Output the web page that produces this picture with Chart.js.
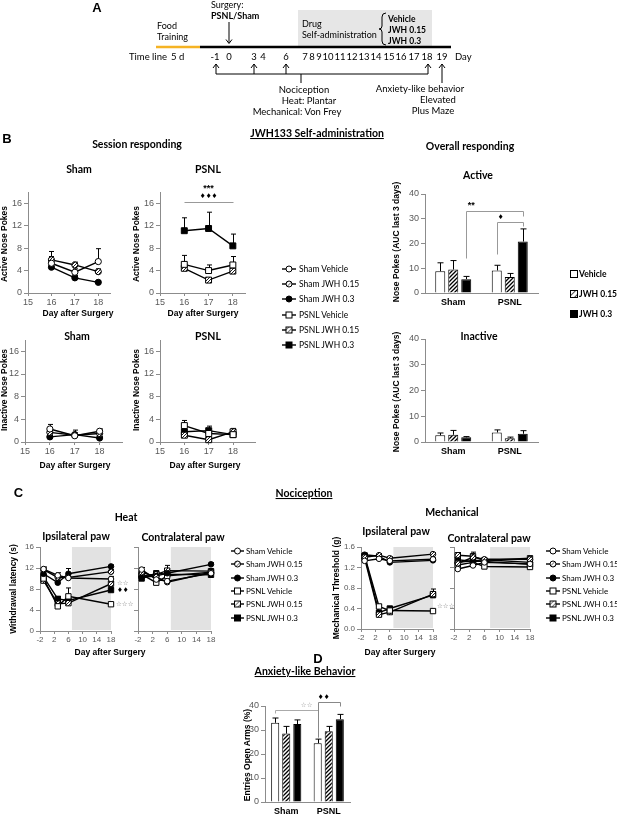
<!DOCTYPE html>
<html><head><meta charset="utf-8">
<script src="https://cdn.jsdelivr.net/npm/chart.js@4.4.0/dist/chart.umd.min.js"></script>
<style>
html,body{margin:0;padding:0;background:#fff;}
#page{position:relative;width:617px;height:815px;overflow:hidden;background:#fff;}
canvas{position:absolute;}
#ov{position:absolute;left:0;top:0;pointer-events:none;}
</style></head>
<body><div id="page"><svg id="ov" xmlns="http://www.w3.org/2000/svg" width="617" height="815"></svg></div>
<script>
// ---------------- DATA ----------------
const seriesNames = ['Sham Vehicle','Sham JWH 0.15','Sham JWH 0.3','PSNL Vehicle','PSNL JWH 0.15','PSNL JWH 0.3'];
const doseNames = ['Vehicle','JWH 0.15','JWH 0.3'];
const groupNames = ['Sham','PSNL'];

// Panel B - session responding (days after surgery)
const sessionDays = [16, 17, 18];
const activeShamVehicle = [5.3, 3.7, 5.6];   const activeShamVehicleErr = [1.2, 0.6, 2.3];
const activeShamJwh015  = [5.9, 5.0, 3.8];   const activeShamJwh015Err  = [1.5, 0.5, 0.5];
const activeShamJwh03   = [4.6, 2.7, 1.9];   const activeShamJwh03Err   = [0.5, 0.4, 0.3];
const activePsnlVehicle = [5.1, 4.0, 5.0];   const activePsnlVehicleErr = [1.6, 1.0, 1.5];
const activePsnlJwh015  = [4.4, 2.3, 3.9];   const activePsnlJwh015Err  = [0.4, 0.3, 0.4];
const activePsnlJwh03   = [11.1, 11.5, 8.4]; const activePsnlJwh03Err   = [2.3, 2.9, 2.1];
const inactiveShamVehicle = [2.3, 1.1, 1.9]; const inactiveShamVehicleErr = [0.8, 0.4, 0.4];
const inactiveShamJwh015  = [1.7, 1.2, 1.5]; const inactiveShamJwh015Err  = [0.4, 0.9, 0.5];
const inactiveShamJwh03   = [0.9, 1.3, 0.7]; const inactiveShamJwh03Err   = [0.3, 0.3, 0.2];
const inactivePsnlVehicle = [2.9, 1.5, 1.3]; const inactivePsnlVehicleErr = [0.9, 0.4, 0.3];
const inactivePsnlJwh015  = [1.2, 0.4, 1.8]; const inactivePsnlJwh015Err  = [0.3, 0.2, 0.6];
const inactivePsnlJwh03   = [1.8, 2.0, 1.3]; const inactivePsnlJwh03Err   = [0.3, 0.8, 0.3];

// Panel B - overall responding (AUC last 3 days), per group [Sham, PSNL]
const aucActiveVehicle = [8.8, 9.1];   const aucActiveVehicleErr = [3.4, 2.1];
const aucActiveJwh015  = [9.5, 6.5];   const aucActiveJwh015Err  = [3.6, 1.4];
const aucActiveJwh03   = [5.6, 20.8];  const aucActiveJwh03Err   = [1.1, 5.1];
const aucInactiveVehicle = [2.6, 3.7]; const aucInactiveVehicleErr = [0.9, 1.0];
const aucInactiveJwh015  = [2.8, 1.5]; const aucInactiveJwh015Err  = [1.7, 0.4];
const aucInactiveJwh03   = [1.8, 3.2]; const aucInactiveJwh03Err   = [0.3, 1.2];

// Panel C - nociception (days after surgery)
const nociDays = [-1, 3, 6, 18];
const heatIpsiShamVehicle = [11.8, 10.6, 10.1, 9.9]; const heatIpsiShamVehicleErr = [0.4, 0.5, 0.4, 0.5];
const heatIpsiShamJwh015  = [11.7, 10.2, 10.2, 11.3]; const heatIpsiShamJwh015Err = [0.3, 0.4, 0.4, 0.4];
const heatIpsiShamJwh03   = [10.9, 9.2, 10.9, 12.3]; const heatIpsiShamJwh03Err   = [0.5, 0.4, 1.0, 0.3];
const heatIpsiPsnlVehicle = [10.0, 4.7, 6.6, 5.1];   const heatIpsiPsnlVehicleErr = [0.5, 0.4, 1.6, 0.3];
const heatIpsiPsnlJwh015  = [9.6, 5.2, 5.3, 9.0];    const heatIpsiPsnlJwh015Err  = [0.4, 0.4, 0.5, 0.4];
const heatIpsiPsnlJwh03   = [10.3, 6.1, 5.8, 7.8];   const heatIpsiPsnlJwh03Err   = [0.4, 0.5, 0.5, 0.4];
const heatContraShamVehicle = [11.7, 9.8, 9.5, 11.0]; const heatContraShamVehicleErr = [0.4, 0.4, 0.4, 0.4];
const heatContraShamJwh015  = [11.2, 10.3, 9.3, 11.2]; const heatContraShamJwh015Err = [0.4, 0.4, 0.4, 0.4];
const heatContraShamJwh03   = [10.2, 10.5, 11.0, 12.7]; const heatContraShamJwh03Err = [0.3, 0.4, 1.5, 0.3];
const heatContraPsnlVehicle = [10.8, 9.2, 10.5, 11.2]; const heatContraPsnlVehicleErr = [0.4, 0.4, 0.4, 0.4];
const heatContraPsnlJwh015  = [10.5, 10.8, 11.5, 11.4]; const heatContraPsnlJwh015Err = [0.4, 0.4, 0.4, 0.4];
const heatContraPsnlJwh03   = [10.0, 11.0, 10.8, 10.7]; const heatContraPsnlJwh03Err = [0.4, 0.4, 0.4, 0.4];
const mechIpsiShamVehicle = [1.33, 1.37, 1.33, 1.36]; const mechIpsiShamVehicleErr = [0.03, 0.03, 0.03, 0.03];
const mechIpsiShamJwh015  = [1.40, 1.44, 1.38, 1.46]; const mechIpsiShamJwh015Err  = [0.03, 0.03, 0.03, 0.03];
const mechIpsiShamJwh03   = [1.45, 1.42, 1.30, 1.34]; const mechIpsiShamJwh03Err   = [0.03, 0.03, 0.03, 0.03];
const mechIpsiPsnlVehicle = [1.43, 0.44, 0.36, 0.35]; const mechIpsiPsnlVehicleErr = [0.03, 0.03, 0.03, 0.03];
const mechIpsiPsnlJwh015  = [1.38, 0.28, 0.33, 0.68]; const mechIpsiPsnlJwh015Err  = [0.03, 0.03, 0.03, 0.05];
const mechIpsiPsnlJwh03   = [1.42, 0.32, 0.40, 0.66]; const mechIpsiPsnlJwh03Err   = [0.03, 0.03, 0.03, 0.12];
const mechContraShamVehicle = [1.17, 1.24, 1.30, 1.27]; const mechContraShamVehicleErr = [0.03, 0.03, 0.03, 0.03];
const mechContraShamJwh015  = [1.28, 1.40, 1.36, 1.36]; const mechContraShamJwh015Err  = [0.03, 0.03, 0.03, 0.03];
const mechContraShamJwh03   = [1.30, 1.33, 1.35, 1.30]; const mechContraShamJwh03Err   = [0.03, 0.03, 0.03, 0.03];
const mechContraPsnlVehicle = [1.25, 1.30, 1.22, 1.21]; const mechContraPsnlVehicleErr = [0.03, 0.03, 0.03, 0.03];
const mechContraPsnlJwh015  = [1.44, 1.42, 1.34, 1.38]; const mechContraPsnlJwh015Err  = [0.05, 0.08, 0.03, 0.03];
const mechContraPsnlJwh03   = [1.35, 1.32, 1.32, 1.26]; const mechContraPsnlJwh03Err   = [0.03, 0.03, 0.03, 0.03];

// Panel D - anxiety-like behavior, per group [Sham, PSNL]
const openArmsVehicle = [33.0, 24.5]; const openArmsVehicleErr = [2.0, 1.7];
const openArmsJwh015  = [28.5, 29.5]; const openArmsJwh015Err  = [3.0, 2.0];
const openArmsJwh03   = [32.5, 34.5]; const openArmsJwh03Err   = [1.7, 2.0];

// Timeline (panel A)
const timelineDays = ['-1','0','3','4','6','7','8','9','10','11','12','13','14','15','16','17','18','19'];

// ---------------- HELPERS ----------------
const LATO = "Lato, 'Open Sans', sans-serif";
const ARIAL = "'Liberation Sans', Arial, sans-serif";
const page = document.getElementById('page');
const svg = document.getElementById('ov');
const parts = [];
function T(x, y, s, o = {}) {
  const size = o.size || 9, w = o.bold ? 'bold' : 'normal', fam = o.fam || LATO;
  const anc = o.anchor || 'start', col = o.color || '#000';
  const tr = o.rot ? ` transform="rotate(-90 ${x} ${y})"` : '';
  const deco = o.under ? ' text-decoration="underline"' : '';
  parts.push(`<text x="${x}" y="${y}" font-family="${fam}" font-size="${size}" font-weight="${w}" text-anchor="${anc}" fill="${col}"${tr}${deco}>${s}</text>`);
}
function L(x1, y1, x2, y2, col = '#000', w = 1) {
  parts.push(`<line x1="${x1}" y1="${y1}" x2="${x2}" y2="${y2}" stroke="${col}" stroke-width="${w}"/>`);
}
function P(d, col = '#000', w = 1, fill = 'none') {
  parts.push(`<path d="${d}" stroke="${col}" stroke-width="${w}" fill="${fill}"/>`);
}

function hatchCanvas(size, bg, fg, lw) {
  const p = document.createElement('canvas'); p.width = p.height = size;
  const g = p.getContext('2d');
  g.fillStyle = bg; g.fillRect(0, 0, size, size);
  g.strokeStyle = fg; g.lineWidth = lw;
  g.beginPath();
  g.moveTo(0, size); g.lineTo(size, 0);
  g.moveTo(-size / 2, size / 2); g.lineTo(size / 2, -size / 2);
  g.moveTo(size / 2, size * 1.5); g.lineTo(size * 1.5, size / 2);
  g.stroke();
  return document.createElement('canvas').getContext('2d').createPattern(p, 'repeat');
}
const barHatch = hatchCanvas(4, '#fff', '#000', 1.3);
const dotHatch = hatchCanvas(3, '#fff', '#222', 1);

const MK = [
  {shape: 'circle', r: 3.1, fill: '#fff'},
  {shape: 'circle', r: 3.1, fill: dotHatch},
  {shape: 'circle', r: 3.1, fill: '#000'},
  {shape: 'rect', r: 4.2, fill: '#fff'},
  {shape: 'rect', r: 4.2, fill: dotHatch},
  {shape: 'rect', r: 4.2, fill: '#000'},
];
const BARFILL = ['#fff', barHatch, '#000'];

const notesById = {};
const shadeById = {};
function drawErr(chart, capW) {
  const {ctx} = chart; const ys = chart.scales.y;
  ctx.save(); ctx.strokeStyle = '#000'; ctx.lineWidth = 1;
  chart.data.datasets.forEach((ds, k) => {
    if (!ds.err) return;
    const meta = chart.getDatasetMeta(k);
    meta.data.forEach((el, i) => {
      const d = ds.data[i]; const v = typeof d === 'object' ? d.y : d;
      if (!isFinite(v)) return;
      const y1 = ys.getPixelForValue(v + ds.err[i]);
      const x = Math.round(el.x) + 0.5;
      ctx.beginPath(); ctx.moveTo(x, el.y); ctx.lineTo(x, y1);
      ctx.moveTo(x - capW, y1); ctx.lineTo(x + capW, y1); ctx.stroke();
    });
  });
  ctx.restore();
}
function drawNotes(chart) {
  const items = notesById[chart.canvas.id]; if (!items) return;
  const {ctx} = chart; const xs = chart.scales.x, ys = chart.scales.y;
  const px = v => typeof v === 'object' ? chart.getDatasetMeta(v.ds).data[v.i].x : xs.getPixelForValue(v);
  ctx.save();
  items.forEach(it => {
    if (it.type === 'path') {
      ctx.beginPath();
      it.pts.forEach(([vx, vy], k) => { const X = Math.round(px(vx)) + 0.5, Y = Math.round(ys.getPixelForValue(vy)) + 0.5; k ? ctx.lineTo(X, Y) : ctx.moveTo(X, Y); });
      ctx.strokeStyle = it.color; ctx.lineWidth = 1; ctx.stroke();
    } else {
      ctx.font = it.font; ctx.fillStyle = it.color; ctx.textAlign = it.align || 'center'; ctx.textBaseline = 'middle';
      ctx.fillText(it.text, px(it.x) + (it.dx || 0), ys.getPixelForValue(it.y));
    }
  });
  ctx.restore();
}
const annotPlugin = {
  id: 'annot',
  beforeDatasetsDraw(chart) {
    const sh = shadeById[chart.canvas.id];
    if (sh) {
      const {ctx, chartArea: a} = chart; const xs = chart.scales.x;
      const x0 = xs.getPixelForValue(sh[0]), x1 = xs.getPixelForValue(sh[1]);
      ctx.save(); ctx.fillStyle = '#e2e2e2'; ctx.fillRect(x0, a.top, x1 - x0, a.bottom - a.top - 1); ctx.restore();
    }
    if (chart.config.type === 'line') drawErr(chart, 2.5);
  },
  afterDatasetsDraw(chart) {
    if (chart.config.type === 'bar') drawErr(chart, 3);
    drawNotes(chart);
  }
};
Chart.register(annotPlugin);

function mkCanvas(id, rect, m) {
  const c = document.createElement('canvas'); c.id = id;
  const w = rect.r - rect.l + m.l + m.r, h = rect.b - rect.t + m.t + m.b;
  c.width = w; c.height = h;
  c.style.left = (rect.l - m.l) + 'px'; c.style.top = (rect.t - m.t) + 'px';
  c.style.width = w + 'px'; c.style.height = h + 'px';
  page.insertBefore(c, svg);
  return c;
}
function yAxis(cfg, m) {
  return {
    type: 'linear', min: cfg.yMin, max: cfg.yMax,
    ticks: {stepSize: cfg.yStep, includeBounds: false, display: cfg.yLabels !== false, color: '#595959',
      font: {family: ARIAL, size: cfg.tickSize || 9}, padding: 2,
      callback: cfg.yFmt || (v => String(v))},
    grid: {drawOnChartArea: false, tickLength: 4, color: '#8c8c8c'},
    border: {color: '#8c8c8c'},
    afterFit: s => { s.width = m.l; s.paddingTop = 0; s.paddingBottom = 0; }
  };
}
function baseOptions(m) {
  return {
    responsive: false, animation: false, devicePixelRatio: 1, events: [],
    layout: {padding: {left: 0, right: m.r, top: m.t, bottom: 0}},
    plugins: {legend: {display: false}, tooltip: {enabled: false}, title: {display: false}},
  };
}
function lineChart(id, rect, cfg) {
  const m = Object.assign({l: 24, r: 30, t: 24, b: 16}, cfg.m || {});
  if (cfg.notes) notesById[id] = cfg.notes;
  if (cfg.shade) shadeById[id] = cfg.shade;
  const c = mkCanvas(id, rect, m);
  const datasets = [];
  cfg.series.forEach((s, k) => {
    if (!s) return;
    datasets.push({
      label: seriesNames[k],
      data: cfg.xs.map((xv, i) => ({x: xv, y: s[0][i]})),
      err: s[1],
      borderColor: '#000', borderWidth: 1.4,
      pointStyle: MK[k].shape, pointRadius: MK[k].r * (cfg.ms || 1), pointBackgroundColor: MK[k].fill,
      pointBorderColor: '#000', pointBorderWidth: 1, clip: false, tension: 0
    });
  });
  const opt = baseOptions(m);
  opt.scales = {
    x: {type: 'linear', min: cfg.xMin, max: cfg.xMax,
      ticks: {stepSize: cfg.xStep, includeBounds: false, autoSkip: false, maxRotation: 0, color: '#595959',
        font: {family: ARIAL, size: cfg.tickSize || 9}, padding: 1, callback: v => String(v)},
      grid: {drawOnChartArea: false, tickLength: 3, color: '#8c8c8c'}, border: {color: '#8c8c8c'},
      afterFit: s => { s.height = m.b; s.paddingLeft = 0; s.paddingRight = 0; }},
    y: yAxis(cfg, m)
  };
  new Chart(c, {type: 'line', data: {datasets}, options: opt});
}
function barChart(id, rect, cfg) {
  const m = Object.assign({l: 22, r: 10, t: 22, b: 22}, cfg.m || {});
  if (cfg.notes) notesById[id] = cfg.notes;
  const c = mkCanvas(id, rect, m);
  const datasets = cfg.series.map((s, k) => ({
    label: doseNames[k], data: s[0], err: s[1],
    backgroundColor: BARFILL[k], borderColor: '#000', borderWidth: 1, borderSkipped: 'bottom',
    categoryPercentage: cfg.cp, barPercentage: cfg.bp
  }));
  const opt = baseOptions(m);
  opt.scales = {
    x: {type: 'category', offset: true,
      ticks: {color: '#000', font: {family: ARIAL, size: 9, weight: 'bold'}, padding: 4, maxRotation: 0},
      grid: {display: false, drawTicks: false}, border: {display: true, color: '#8c8c8c'},
      afterFit: s => { s.height = m.b; s.paddingLeft = 0; s.paddingRight = 0; }},
    y: yAxis(cfg, m)
  };
  new Chart(c, {type: 'bar', data: {labels: groupNames, datasets}, options: opt});
}

// ---------------- PANEL A (timeline diagram) ----------------
T(97, 12, 'A', {bold: true, size: 13, fam: ARIAL, anchor: 'middle'});
parts.push('<rect x="298" y="10" width="134" height="37" fill="#e6e6e6"/>');
L(156, 47, 200, 47, '#f5b324', 2.5);
L(200, 47, 451, 47, '#000', 2.5);
T(211, 8, 'Surgery:', {size: 9});
T(211, 19, 'PSNL/Sham', {size: 9, bold: true});
L(229, 22, 229, 43); P('M226,39.5 L229,43.5 L232,39.5');
T(157, 29, 'Food', {size: 9}); T(157, 40, 'Training', {size: 9});
T(302, 27, 'Drug', {size: 9}); T(302, 38, 'Self-administration', {size: 9});
P('M386,13 Q382,13 382,17 L382,26 Q382,29 379,29 Q382,29 382,32 L382,41 Q382,45 386,45');
T(388, 22, 'Vehicle', {size: 8.5, bold: true});
T(388, 33, 'JWH 0.15', {size: 8.5, bold: true});
T(388, 44, 'JWH 0.3', {size: 8.5, bold: true});
T(129, 60, 'Time line', {size: 9.5}); T(171, 60, '5 d', {size: 9.5});
const tlX = [215, 229, 254, 263, 286, 305, 312, 319, 328, 340, 352, 364, 376, 389, 401, 414, 427, 442];
timelineDays.forEach((d, i) => T(tlX[i], 60, d, {size: 9.5, anchor: 'middle'}));
T(455, 60, 'Day', {size: 9.5});
[216, 254, 286, 428].forEach(x => { L(x, 74, x, 64); P(`M${x - 3},68 L${x},64 L${x + 3},68`); });
L(216, 74, 428, 74); L(301, 74, 301, 83);
L(442, 83, 442, 64); P('M439,68 L442,64 L445,68');
T(304, 93, 'Nociception', {size: 9.5, anchor: 'middle'});
T(309, 104, 'Heat: Plantar', {size: 9.5, anchor: 'middle'});
T(297, 115, 'Mechanical: Von Frey', {size: 9.5, anchor: 'middle'});
T(420, 92, 'Anxiety-like behavior', {size: 9.5, anchor: 'middle'});
T(438, 103, 'Elevated', {size: 9.5, anchor: 'middle'});
T(433, 114, 'Plus Maze', {size: 9.5, anchor: 'middle'});

// ---------------- PANEL B ----------------
T(7, 143, 'B', {bold: true, size: 13, fam: ARIAL, anchor: 'middle'});
T(317, 137, 'JWH133 Self-administration', {bold: true, size: 10.5, anchor: 'middle', under: true});
T(137, 148, 'Session responding', {bold: true, size: 10.5, anchor: 'middle'});
T(470, 150, 'Overall responding', {bold: true, size: 10.5, anchor: 'middle'});
T(79, 173, 'Sham', {bold: true, size: 10.5, anchor: 'middle'});
T(208, 173, 'PSNL', {bold: true, size: 10.5, anchor: 'middle'});
T(77, 340, 'Sham', {bold: true, size: 10.5, anchor: 'middle'});
T(208, 340, 'PSNL', {bold: true, size: 10.5, anchor: 'middle'});
T(478, 179, 'Active', {bold: true, size: 10.5, anchor: 'middle'});
T(479, 340, 'Inactive', {bold: true, size: 10.5, anchor: 'middle'});
T(7, 244, 'Active Nose Pokes', {bold: true, size: 8.5, fam: ARIAL, anchor: 'middle', rot: true});
T(139, 244, 'Active Nose Pokes', {bold: true, size: 8.5, fam: ARIAL, anchor: 'middle', rot: true});
T(7, 390, 'Inactive Nose Pokes', {bold: true, size: 8.5, fam: ARIAL, anchor: 'middle', rot: true});
T(139, 390, 'Inactive Nose Pokes', {bold: true, size: 8.5, fam: ARIAL, anchor: 'middle', rot: true});
T(399, 242, 'Nose Pokes (AUC last 3 days)', {bold: true, size: 8.5, fam: ARIAL, anchor: 'middle', rot: true});
T(399, 392, 'Nose Pokes (AUC last 3 days)', {bold: true, size: 8.5, fam: ARIAL, anchor: 'middle', rot: true});
T(78, 316, 'Day after Surgery', {bold: true, size: 8.5, fam: ARIAL, anchor: 'middle'});
T(203, 316, 'Day after Surgery', {bold: true, size: 8.5, fam: ARIAL, anchor: 'middle'});
T(75, 468, 'Day after Surgery', {bold: true, size: 8.5, fam: ARIAL, anchor: 'middle'});
T(205, 468, 'Day after Surgery', {bold: true, size: 8.5, fam: ARIAL, anchor: 'middle'});

// legends (svg)
parts.push('<defs><pattern id="hm" width="3" height="3" patternUnits="userSpaceOnUse" patternTransform="rotate(45)"><rect width="3" height="3" fill="#fff"/><line x1="0" y1="0" x2="0" y2="3" stroke="#222" stroke-width="1.2"/></pattern>' +
  '<pattern id="hb" width="4" height="4" patternUnits="userSpaceOnUse" patternTransform="rotate(45)"><rect width="4" height="4" fill="#fff"/><line x1="0" y1="0" x2="0" y2="4" stroke="#000" stroke-width="1.4"/></pattern></defs>');
function lineLegend(x0, x1, tx, ys, size) {
  seriesNames.forEach((n, k) => {
    const y = ys[k], cx = (x0 + x1) / 2;
    L(x0, y, x1, y, '#000', 1.4);
    const f = k % 3 === 0 ? '#fff' : (k % 3 === 1 ? 'url(#hm)' : '#000');
    if (k < 3) parts.push(`<circle cx="${cx}" cy="${y}" r="3" fill="${f}" stroke="#000" stroke-width="1"/>`);
    else parts.push(`<rect x="${cx - 3}" y="${y - 3}" width="6" height="6" fill="${f}" stroke="#000" stroke-width="1"/>`);
    T(tx, y + 3, n, {size: size});
  });
}
lineLegend(282, 296, 299, [269, 284, 299, 315, 330, 345], 8.5);
[274, 294, 314].forEach((y, k) => {
  const f = k === 0 ? '#fff' : (k === 1 ? 'url(#hb)' : '#000');
  parts.push(`<rect x="570.5" y="${y - 3.5}" width="7" height="7" fill="${f}" stroke="#000" stroke-width="1"/>`);
  T(579, y + 3, doseNames[k], {size: 8.5, bold: true});
});

const bTicks = {xMin: 15, xStep: 1, yMin: 0, yMax: 18, yStep: 4};
lineChart('bActSham', {l: 28, r: 110, t: 192, b: 293}, Object.assign({}, bTicks, {xMax: 18.5, xs: sessionDays,
  series: [[activeShamVehicle, activeShamVehicleErr], [activeShamJwh015, activeShamJwh015Err], [activeShamJwh03, activeShamJwh03Err]]}));
lineChart('bActPsnl', {l: 160, r: 245, t: 192, b: 293}, Object.assign({}, bTicks, {xMax: 18.5, xs: sessionDays,
  series: [null, null, null,
           [activePsnlVehicle, activePsnlVehicleErr], [activePsnlJwh015, activePsnlJwh015Err], [activePsnlJwh03, activePsnlJwh03Err]],
  notes: [
    {type: 'path', pts: [[16, 16.3], [18, 16.3]], color: '#999'},
    {type: 'text', x: 17, y: 18.6, text: '***', font: 'bold 9px ' + ARIAL, color: '#000'},
    {type: 'text', x: 17, y: 17.2, text: '\u2666\u2666\u2666', font: '6.5px "DejaVu Sans"', color: '#000'}
  ]}));
lineChart('bInaSham', {l: 25, r: 122, t: 340, b: 442}, Object.assign({}, bTicks, {xMax: 18.9, xs: sessionDays,
  series: [[inactiveShamVehicle, inactiveShamVehicleErr], [inactiveShamJwh015, inactiveShamJwh015Err], [inactiveShamJwh03, inactiveShamJwh03Err]]}));
lineChart('bInaPsnl', {l: 160, r: 255, t: 340, b: 442}, Object.assign({}, bTicks, {xMax: 18.9, xs: sessionDays,
  series: [null, null, null,
           [inactivePsnlVehicle, inactivePsnlVehicleErr], [inactivePsnlJwh015, inactivePsnlJwh015Err], [inactivePsnlJwh03, inactivePsnlJwh03Err]]}));

barChart('bAucAct', {l: 425, r: 538, t: 194, b: 293}, {yMin: 0, yMax: 40, yStep: 10, cp: 0.69, bp: 0.77,
  series: [[aucActiveVehicle, aucActiveVehicleErr], [aucActiveJwh015, aucActiveJwh015Err], [aucActiveJwh03, aucActiveJwh03Err]],
  notes: [
    {type: 'path', pts: [[{ds: 2, i: 0}, 14.3], [{ds: 2, i: 0}, 33.2], [{ds: 2, i: 1}, 33.2], [{ds: 2, i: 1}, 31.2]], color: '#999'},
    {type: 'text', x: {ds: 2, i: 0}, dx: 5, y: 35.3, text: '**', font: 'bold 9px ' + ARIAL, color: '#000'},
    {type: 'path', pts: [[{ds: 0, i: 1}, 15.8], [{ds: 0, i: 1}, 28.5], [{ds: 2, i: 1}, 28.5], [{ds: 2, i: 1}, 26.9]], color: '#999'},
    {type: 'text', x: {ds: 0, i: 1}, dx: 4, y: 30.7, text: '\u2666', font: '6.5px "DejaVu Sans"', color: '#000'}
  ]});
barChart('bAucIna', {l: 425, r: 538, t: 339, b: 442}, {yMin: 0, yMax: 40, yStep: 10, cp: 0.69, bp: 0.77,
  series: [[aucInactiveVehicle, aucInactiveVehicleErr], [aucInactiveJwh015, aucInactiveJwh015Err], [aucInactiveJwh03, aucInactiveJwh03Err]]});

// ---------------- PANEL C ----------------
T(18.5, 497, 'C', {bold: true, size: 13, fam: ARIAL, anchor: 'middle'});
T(304, 497, 'Nociception', {bold: true, size: 10.5, anchor: 'middle', under: true});
T(126, 521, 'Heat', {bold: true, size: 10.5, anchor: 'middle'});
T(452, 516, 'Mechanical', {bold: true, size: 10.5, anchor: 'middle'});
T(76, 540, 'Ipsilateral paw', {bold: true, size: 10.5, anchor: 'middle'});
T(183, 541, 'Contralateral paw', {bold: true, size: 10.5, anchor: 'middle'});
T(396, 535, 'Ipsilateral paw', {bold: true, size: 10.5, anchor: 'middle'});
T(489, 542, 'Contralateral paw', {bold: true, size: 10.5, anchor: 'middle'});
T(16, 589, 'Withdrawal latency (s)', {bold: true, size: 8.5, fam: ARIAL, anchor: 'middle', rot: true});
T(339, 588, 'Mechanical Threshold (g)', {bold: true, size: 8.5, fam: ARIAL, anchor: 'middle', rot: true});
T(110, 655, 'Day after Surgery', {bold: true, size: 8.5, fam: ARIAL, anchor: 'middle'});
T(400, 655, 'Day after Surgery', {bold: true, size: 8.5, fam: ARIAL, anchor: 'middle'});
lineLegend(231, 244, 246, [551, 564, 578, 591, 604, 618], 8);
lineLegend(546, 560, 562, [551, 564, 578, 591, 604, 618], 8);

const heatCfg = {xMin: -2, xMax: 18, xStep: 4, yMin: 0, yMax: 16, yStep: 4, xs: nociDays, tickSize: 8, ms: 0.9, shade: [7, 18]};
lineChart('cHeatIpsi', {l: 40, r: 111, t: 547, b: 631}, Object.assign({}, heatCfg, {
  series: [[heatIpsiShamVehicle, heatIpsiShamVehicleErr], [heatIpsiShamJwh015, heatIpsiShamJwh015Err], [heatIpsiShamJwh03, heatIpsiShamJwh03Err],
           [heatIpsiPsnlVehicle, heatIpsiPsnlVehicleErr], [heatIpsiPsnlJwh015, heatIpsiPsnlJwh015Err], [heatIpsiPsnlJwh03, heatIpsiPsnlJwh03Err]],
  notes: [
    {type: 'text', x: 18, dx: 6, y: 9.0, text: '\u2606\u2606', font: '6.5px "DejaVu Sans"', color: '#888', align: 'left'},
    {type: 'text', x: 18, dx: 6, y: 7.8, text: '\u2666\u2666', font: '6.5px "DejaVu Sans"', color: '#000', align: 'left'},
    {type: 'text', x: 18, dx: 5, y: 5.1, text: '\u2606\u2606\u2606', font: '6.5px "DejaVu Sans"', color: '#888', align: 'left'}
  ]}));
lineChart('cHeatContra', {l: 138, r: 211, t: 547, b: 631}, Object.assign({}, heatCfg, {yLabels: false,
  series: [[heatContraShamVehicle, heatContraShamVehicleErr], [heatContraShamJwh015, heatContraShamJwh015Err], [heatContraShamJwh03, heatContraShamJwh03Err],
           [heatContraPsnlVehicle, heatContraPsnlVehicleErr], [heatContraPsnlJwh015, heatContraPsnlJwh015Err], [heatContraPsnlJwh03, heatContraPsnlJwh03Err]]}));
const mechCfg = {xMin: -2, xMax: 18, xStep: 4, yMin: 0, yMax: 1.6, yStep: 0.4, xs: nociDays, tickSize: 8, ms: 0.9, yFmt: v => v.toFixed(1), shade: [7, 18]};
lineChart('cMechIpsi', {l: 361, r: 433, t: 547, b: 629}, Object.assign({}, mechCfg, {
  series: [[mechIpsiShamVehicle, mechIpsiShamVehicleErr], [mechIpsiShamJwh015, mechIpsiShamJwh015Err], [mechIpsiShamJwh03, mechIpsiShamJwh03Err],
           [mechIpsiPsnlVehicle, mechIpsiPsnlVehicleErr], [mechIpsiPsnlJwh015, mechIpsiPsnlJwh015Err], [mechIpsiPsnlJwh03, mechIpsiPsnlJwh03Err]],
  notes: [
    {type: 'text', x: 18, dx: 4, y: 0.44, text: '\u2606\u2606\u2606', font: '6.5px "DejaVu Sans"', color: '#888', align: 'left'}
  ]}));
lineChart('cMechContra', {l: 454, r: 530, t: 547, b: 629}, Object.assign({}, mechCfg, {yLabels: false, shade: [7.5, 18],
  series: [[mechContraShamVehicle, mechContraShamVehicleErr], [mechContraShamJwh015, mechContraShamJwh015Err], [mechContraShamJwh03, mechContraShamJwh03Err],
           [mechContraPsnlVehicle, mechContraPsnlVehicleErr], [mechContraPsnlJwh015, mechContraPsnlJwh015Err], [mechContraPsnlJwh03, mechContraPsnlJwh03Err]]}));

// ---------------- PANEL D ----------------
T(318, 663, 'D', {bold: true, size: 13, fam: ARIAL, anchor: 'middle'});
T(305, 675, 'Anxiety-like Behavior', {bold: true, size: 10.5, anchor: 'middle', under: true});
T(250, 755, 'Entries Open Arms (%)', {bold: true, size: 8.5, fam: ARIAL, anchor: 'middle', rot: true});
barChart('dAnx', {l: 265, r: 350, t: 706, b: 802}, {yMin: 0, yMax: 40, yStep: 10, cp: 0.78, bp: 0.73, m: {b: 13},
  series: [[openArmsVehicle, openArmsVehicleErr], [openArmsJwh015, openArmsJwh015Err], [openArmsJwh03, openArmsJwh03Err]],
  notes: [
    {type: 'path', pts: [[{ds: 0, i: 0}, 37.0], [{ds: 0, i: 0}, 38.3], [{ds: 0, i: 1}, 38.3], [{ds: 0, i: 1}, 27.2]], color: '#aaa'},
    {type: 'text', x: {ds: 0, i: 1}, dx: -11, y: 40.3, text: '\u2606\u2606', font: '6.5px "DejaVu Sans"', color: '#999'},
    {type: 'path', pts: [[{ds: 0, i: 1}, 27.0], [{ds: 0, i: 1}, 41.5], [{ds: 2, i: 1}, 41.5], [{ds: 2, i: 1}, 40.0]], color: '#888'},
    {type: 'text', x: {ds: 0, i: 1}, dx: 6, y: 43.6, text: '\u2666\u2666', font: '6.5px "DejaVu Sans"', color: '#000'}
  ]});

svg.innerHTML = parts.join('');
</script>
</body></html>
